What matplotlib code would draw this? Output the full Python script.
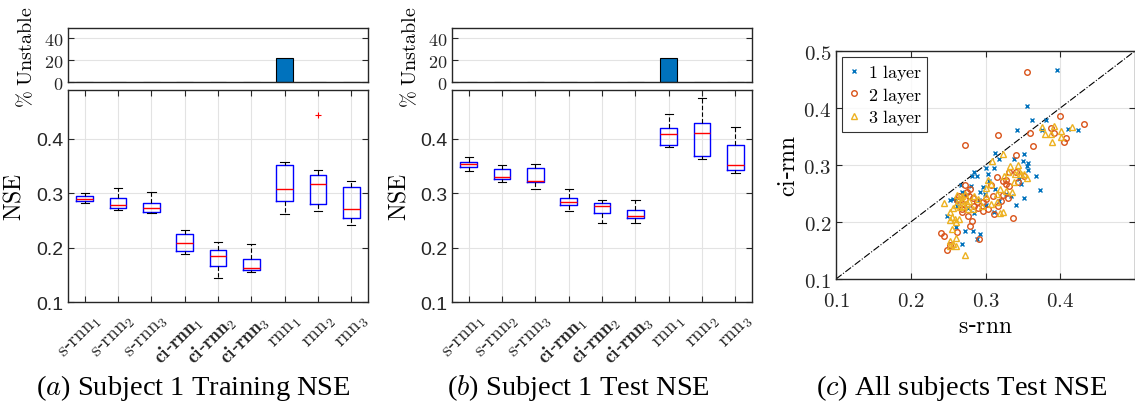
import matplotlib
matplotlib.use("Agg")
import matplotlib.pyplot as plt
import matplotlib.transforms as mtransforms
import numpy as np

plt.rcParams['mathtext.fontset'] = 'cm'
plt.rcParams['axes.formatter.use_mathtext'] = True

# ---- data -------------------------------------------------------------
models = [r'$\mathrm{s}$-$\mathrm{rnn}_1$', r'$\mathrm{s}$-$\mathrm{rnn}_2$', r'$\mathrm{s}$-$\mathrm{rnn}_3$',
          r'$\mathbf{ci}$-$\mathbf{rnn}_1$', r'$\mathbf{ci}$-$\mathbf{rnn}_2$', r'$\mathbf{ci}$-$\mathbf{rnn}_3$',
          r'$\mathrm{rnn}_1$', r'$\mathrm{rnn}_2$', r'$\mathrm{rnn}_3$']

unstable_train = [0, 0, 0, 0, 0, 0, 22, 0, 0]
unstable_test = [0, 0, 0, 0, 0, 0, 22, 0, 0]

# whisker low, q1, median, q3, whisker high
train_lo = [0.2817, 0.2688, 0.2633, 0.1887, 0.144, 0.155, 0.2627, 0.2682, 0.2413]
train_q1 = [0.2853, 0.2725, 0.265, 0.193, 0.166, 0.1593, 0.2853, 0.2804, 0.2553]
train_med = [0.289, 0.278, 0.2725, 0.2089, 0.1844, 0.1618, 0.3085, 0.317, 0.2706]
train_q3 = [0.2945, 0.292, 0.2817, 0.2248, 0.196, 0.180, 0.3512, 0.3335, 0.3122]
train_hi = [0.300, 0.310, 0.302, 0.232, 0.2107, 0.2058, 0.3573, 0.3427, 0.3232]
train_fliers = [[], [], [], [], [], [], [], [0.4445], []]

test_lo = [0.3415, 0.3213, 0.308, 0.267, 0.2456, 0.2456, 0.3854, 0.3622, 0.3378]
test_q1 = [0.3488, 0.3256, 0.320, 0.278, 0.2633, 0.2541, 0.3884, 0.3689, 0.3433]
test_med = [0.353, 0.3305, 0.3232, 0.284, 0.2761, 0.259, 0.409, 0.411, 0.3524]
test_q3 = [0.358, 0.3445, 0.3457, 0.292, 0.2817, 0.2688, 0.420, 0.4293, 0.3896]
test_hi = [0.3665, 0.3518, 0.3543, 0.308, 0.2884, 0.2878, 0.4457, 0.4762, 0.4226]
test_fliers = [[], [], [], [], [], [], [], [], []]

# scatter: s-rnn NSE vs ci-rnn NSE
l1_x = [0.396, 0.356, 0.362, 0.381, 0.375, 0.424, 0.411, 0.342, 0.313, 0.352, 0.318, 0.338,
        0.350, 0.357, 0.356, 0.301, 0.311, 0.357, 0.285, 0.282, 0.288, 0.303, 0.367, 0.348,
        0.373, 0.267, 0.281, 0.268, 0.272, 0.256, 0.260, 0.249, 0.292, 0.299, 0.291, 0.311,
        0.341, 0.352, 0.334, 0.253, 0.260, 0.272, 0.283, 0.292, 0.289, 0.268, 0.297, 0.305,
        0.318, 0.327, 0.276, 0.300, 0.285, 0.262, 0.313, 0.345]
l1_y = [0.467, 0.404, 0.379, 0.379, 0.362, 0.361, 0.363, 0.361, 0.321, 0.319, 0.311, 0.311,
        0.307, 0.303, 0.298, 0.295, 0.295, 0.291, 0.288, 0.281, 0.281, 0.284, 0.281, 0.267,
        0.256, 0.265, 0.263, 0.253, 0.247, 0.240, 0.239, 0.211, 0.253, 0.249, 0.239, 0.218,
        0.230, 0.242, 0.245, 0.238, 0.191, 0.184, 0.184, 0.179, 0.170, 0.161, 0.262, 0.272,
        0.236, 0.250, 0.225, 0.230, 0.215, 0.228, 0.258, 0.276]

l2_x = [0.355, 0.399, 0.432, 0.387, 0.392, 0.408, 0.405, 0.317, 0.360, 0.363, 0.273, 0.341,
        0.332, 0.341, 0.351, 0.343, 0.315, 0.328, 0.323, 0.327, 0.331, 0.279, 0.275, 0.272,
        0.268, 0.269, 0.282, 0.279, 0.276, 0.288, 0.296, 0.303, 0.311, 0.296, 0.317, 0.321,
        0.324, 0.337, 0.330, 0.241, 0.245, 0.262, 0.291, 0.252, 0.248, 0.265, 0.270, 0.278,
        0.285, 0.262, 0.300, 0.310, 0.290, 0.283, 0.308, 0.273]
l2_y = [0.463, 0.386, 0.372, 0.365, 0.357, 0.347, 0.340, 0.353, 0.356, 0.333, 0.335, 0.318,
        0.288, 0.288, 0.281, 0.270, 0.279, 0.274, 0.272, 0.267, 0.263, 0.258, 0.253, 0.240,
        0.223, 0.218, 0.202, 0.193, 0.211, 0.235, 0.235, 0.223, 0.214, 0.219, 0.228, 0.237,
        0.247, 0.207, 0.242, 0.181, 0.175, 0.182, 0.170, 0.160, 0.151, 0.245, 0.232, 0.246,
        0.228, 0.238, 0.240, 0.245, 0.225, 0.242, 0.265, 0.265]

l3_x = [0.375, 0.391, 0.416, 0.380, 0.387, 0.401, 0.401, 0.389, 0.324, 0.309, 0.333, 0.343,
        0.330, 0.340, 0.347, 0.352, 0.303, 0.355, 0.307, 0.300, 0.244, 0.269, 0.264, 0.260,
        0.256, 0.253, 0.255, 0.259, 0.253, 0.265, 0.260, 0.295, 0.308, 0.315, 0.323, 0.319,
        0.328, 0.335, 0.320, 0.276, 0.283, 0.275, 0.255, 0.260, 0.253, 0.257, 0.261, 0.253,
        0.273, 0.268, 0.272, 0.278, 0.262, 0.270, 0.285, 0.290, 0.266, 0.300, 0.315, 0.345,
        0.325, 0.338]
l3_y = [0.367, 0.368, 0.367, 0.354, 0.354, 0.360, 0.349, 0.340, 0.319, 0.307, 0.298, 0.300,
        0.288, 0.284, 0.284, 0.284, 0.274, 0.277, 0.267, 0.260, 0.233, 0.246, 0.242, 0.230,
        0.225, 0.218, 0.209, 0.205, 0.204, 0.205, 0.200, 0.228, 0.232, 0.235, 0.218, 0.216,
        0.254, 0.253, 0.258, 0.223, 0.223, 0.233, 0.188, 0.172, 0.167, 0.161, 0.158, 0.158,
        0.142, 0.238, 0.250, 0.236, 0.248, 0.228, 0.245, 0.240, 0.226, 0.245, 0.250, 0.290,
        0.280, 0.270]

# ---- styling ------------------------------------------------------------
W, H = 1135, 406
spine_c = '#262626'
grid_c = '#e3e3e3'
serif = 'Liberation Serif'


def frac(l, t, r, b):
    return [l / W, 1 - b / H, (r - l) / W, (b - t) / H]


def style(ax):
    for s in ax.spines.values():
        s.set_color(spine_c)
        s.set_linewidth(1.0)
    ax.tick_params(direction='in', top=True, right=True, colors=spine_c, length=4, width=0.8)
    ax.set_axisbelow(True)


def panel(l, r, unstable, lo, q1, med, q3, hi, fliers):
    pos = np.arange(1, len(models) + 1)
    # bar panel
    axb = fig.add_axes(frac(l, 29, r, 83))
    style(axb)
    axb.bar(pos, unstable, width=0.5, color='#0072BD', edgecolor='black', linewidth=0.8)
    axb.set_xlim(0.5, 9.5)
    axb.set_ylim(0, 49)
    axb.set_xticks([])
    axb.set_yticks([0, 20, 40])
    axb.set_yticklabels([r'$0$', r'$20$', r'$40$'], fontsize=13)
    axb.grid(axis='y', color=grid_c, lw=0.8)
    axb.tick_params(top=False, bottom=False)
    axb.set_ylabel(r'$\%\ \mathrm{Unstable}$', fontsize=14.5)
    axb.yaxis.set_label_coords(-0.105, 0.48)

    # box panel
    ax = fig.add_axes(frac(l, 91, r, 303))
    style(ax)
    stats = []
    for i in range(len(models)):
        stats.append(dict(whislo=lo[i], q1=q1[i], med=med[i], q3=q3[i], whishi=hi[i],
                          fliers=fliers[i]))
    ax.bxp(stats, positions=pos, widths=0.5, capwidths=0.25,
           boxprops=dict(color='blue', lw=1.0),
           medianprops=dict(color='red', lw=1.0),
           whiskerprops=dict(color='black', lw=0.8, ls=(0, (4, 2))),
           capprops=dict(color='black', lw=0.8),
           flierprops=dict(marker='+', markeredgecolor='red', markersize=4, markeredgewidth=0.8))
    ax.set_xlim(0.5, 9.5)
    ax.set_ylim(0.1, 0.49)
    ax.set_yticks([0.1, 0.2, 0.3, 0.4])
    ax.set_yticklabels(['0.1', '0.2', '0.3', '0.4'], fontsize=14, family='Liberation Sans')
    ax.set_xticks(pos)
    ax.set_xticklabels(models, rotation=45, ha='right', rotation_mode='anchor', fontsize=14)
    ax.tick_params(axis='x', pad=6)
    shift = mtransforms.ScaledTranslation(7 / 100, 0, fig.dpi_scale_trans)
    for lab in ax.get_xticklabels():
        lab.set_transform(lab.get_transform() + shift)
    ax.grid(True, color=grid_c, lw=0.8)
    ax.set_ylabel(r'$\mathrm{NSE}$', fontsize=17)
    ax.yaxis.set_label_coords(-0.14, 0.5)
    return ax


fig = plt.figure(figsize=(W / 100, H / 100), dpi=100)

panel(68, 368, unstable_train, train_lo, train_q1, train_med, train_q3, train_hi, train_fliers)
panel(452, 752, unstable_test, test_lo, test_q1, test_med, test_q3, test_hi, test_fliers)

# scatter panel
axs = fig.add_axes(frac(836, 52, 1135, 280))
style(axs)
axs.axline((0.1, 0.1), slope=1, color='black', lw=0.8, ls='-.', zorder=1)
axs.plot(l1_x, l1_y, ls='none', marker='x', color='#0072BD', ms=3, mew=1.0, label=r'$\mathrm{1\ layer}$')
axs.plot(l2_x, l2_y, ls='none', marker='o', mfc='none', mec='#D95319', ms=4, mew=1.0, label=r'$\mathrm{2\ layer}$')
axs.plot(l3_x, l3_y, ls='none', marker='^', mfc='none', mec='#EDB120', ms=4.5, mew=1.0, label=r'$\mathrm{3\ layer}$')
axs.set_xlim(0.1, 0.5)
axs.set_ylim(0.1, 0.5)
axs.set_xticks([0.1, 0.2, 0.3, 0.4])
axs.set_xticklabels([r'$0.1$', r'$0.2$', r'$0.3$', r'$0.4$'], fontsize=15)
axs.set_yticks([0.1, 0.2, 0.3, 0.4, 0.5])
axs.set_yticklabels([r'$0.1$', r'$0.2$', r'$0.3$', r'$0.4$', r'$0.5$'], fontsize=15)
axs.tick_params(axis='x', pad=8)
axs.grid(True, color=grid_c, lw=0.8)
axs.set_xlabel(r'$\mathrm{s}$-$\mathrm{rnn}$', fontsize=17, labelpad=2)
axs.set_ylabel(r'$\mathrm{ci}$-$\mathrm{rnn}$', fontsize=17, labelpad=2)
leg = axs.legend(loc='upper left', fontsize=13, frameon=True, fancybox=False, edgecolor='black',
                 borderpad=0.25, labelspacing=0.15, handlelength=0.8, handletextpad=0.4,
                 borderaxespad=0.35)
leg.get_frame().set_linewidth(0.8)

# captions
fig.text(193 / W, 0.045, r'($\mathit{a}$) Subject 1 Training NSE', ha='center', va='center',
         fontsize=20.5, family=serif)
fig.text(578 / W, 0.045, r'($\mathit{b}$) Subject 1 Test NSE', ha='center', va='center',
         fontsize=20.5, family=serif)
fig.text(962 / W, 0.045, r'($\mathit{c}$) All subjects Test NSE', ha='center', va='center',
         fontsize=20.5, family=serif)

fig.savefig('out.png', dpi=100)
